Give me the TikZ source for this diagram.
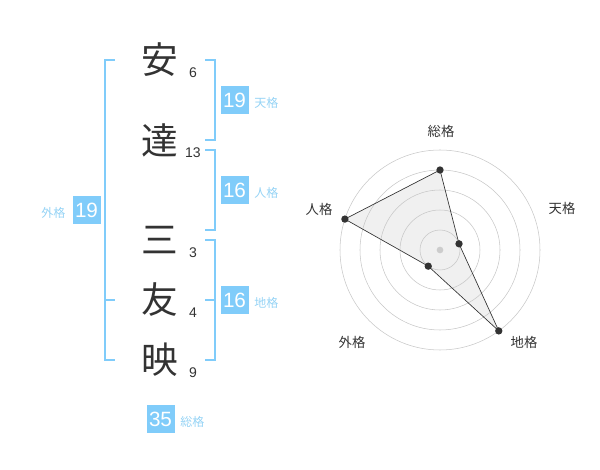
\documentclass[tikz,border=0pt]{standalone}
\usepackage{fontspec}
\setmainfont{Liberation Sans}
\newfontfamily\jp{Noto Sans CJK JP}
\usetikzlibrary{positioning,calc}

\definecolor{kakublue}{HTML}{80CCFA}
\definecolor{kakutext}{HTML}{95D3F5}
\definecolor{inkgray}{HTML}{333333}

\begin{document}
\begin{tikzpicture}[x=0.75pt,y=-0.75pt,
  kanji/.style={font=\jp\fontsize{27.5}{27.5}\selectfont, text=inkgray, inner sep=0},
  strokes/.style={font=\fontsize{10.5}{10.5}\selectfont, text=inkgray, inner sep=0},
  kakubox/.style={fill=kakublue, text=white, minimum size=21pt, inner sep=0, font=\fontsize{15.5}{15.5}\selectfont},
  kakulabel/.style={text=kakutext, font=\jp\fontsize{9}{9}\selectfont, inner sep=0},
  bracket/.style={draw=kakublue, line width=1.5pt},
  ring/.style={draw=black!22, line width=0.4pt},
  axislabel/.style={font=\jp\fontsize{10}{10}\selectfont, text=inkgray, inner sep=0},
  dot/.style={circle, fill=inkgray, inner sep=0, minimum size=5.5pt}]

  \useasboundingbox (0,0) rectangle (600,470);

  % name and stroke counts
  \foreach \ch/\y/\n/\k in {安/60/6/1,達/140/13/2,三/240/3/3,友/300/4/4,映/360/9/5}{
    \node[kanji] (char\k) at (160,\y) {\ch};
    \node[strokes] (num\k) at (193,\y+12.5) {\n};
  }

  % brackets
  \draw[bracket] (115,60) -- (105,60) -- (105,360) -- (115,360);
  \draw[bracket] (105,300) -- (115,300);
  \foreach \t/\b in {60/140,150/230,240/360}{
    \draw[bracket] (205,\t) -- (215,\t) -- (215,\b) -- (205,\b);
  }
  \draw[bracket] (205,300) -- (215,300);

  % boxes
  \node[kakubox] (ten) at (234.5,100) {19};
  \node[kakubox] (jin) at (234.5,190) {16};
  \node[kakubox] (chi) at (234.5,300) {16};
  \node[kakubox] (gai) at (86.5,210) {19};
  \node[kakubox] (sou) at (160.5,419) {35};

  \node[kakulabel, anchor=base west] (tenl) at ([xshift=4pt]ten.base east) {天格};
  \node[kakulabel, anchor=base west] (jinl) at ([xshift=4pt]jin.base east) {人格};
  \node[kakulabel, anchor=base west] (chil) at ([xshift=4pt]chi.base east) {地格};
  \node[kakulabel, anchor=base east] (gail) at ([xshift=-5pt]gai.base west) {外格};
  \node[kakulabel, anchor=base west] (soul) at ([xshift=4pt]sou.base east) {総格};

  % radar
  \coordinate (ctr) at (440,250);
  \foreach \i/\v in {1/80,2/20,3/100,4/20,5/100}
    \coordinate (p\i) at ($ (ctr)+({-162+72*\i}:\v) $);

  \fill[black!6] (p1) -- (p2) -- (p3) -- (p4) -- (p5) -- cycle;
  \foreach \r in {20,40,...,100}
    \draw[ring] (ctr) circle[radius=\r];
  \node[circle, fill=black!20, inner sep=0, minimum size=5pt] (hub) at (ctr) {};
  \draw[inkgray, line width=0.5pt] (p1) -- (p2) -- (p3) -- (p4) -- (p5) -- cycle;
  \foreach \i in {1,...,5}
    \node[dot] (d\i) at (p\i) {};

  \foreach \t/\dx/\dy/\k in {総格/1/-119/1,天格/122/-42/2,地格/84/92/3,外格/-88/92/4,人格/-121/-41/5}
    \node[axislabel] (ax\k) at ($ (ctr)+(\dx,\dy) $) {\t};

\end{tikzpicture}
\end{document}
